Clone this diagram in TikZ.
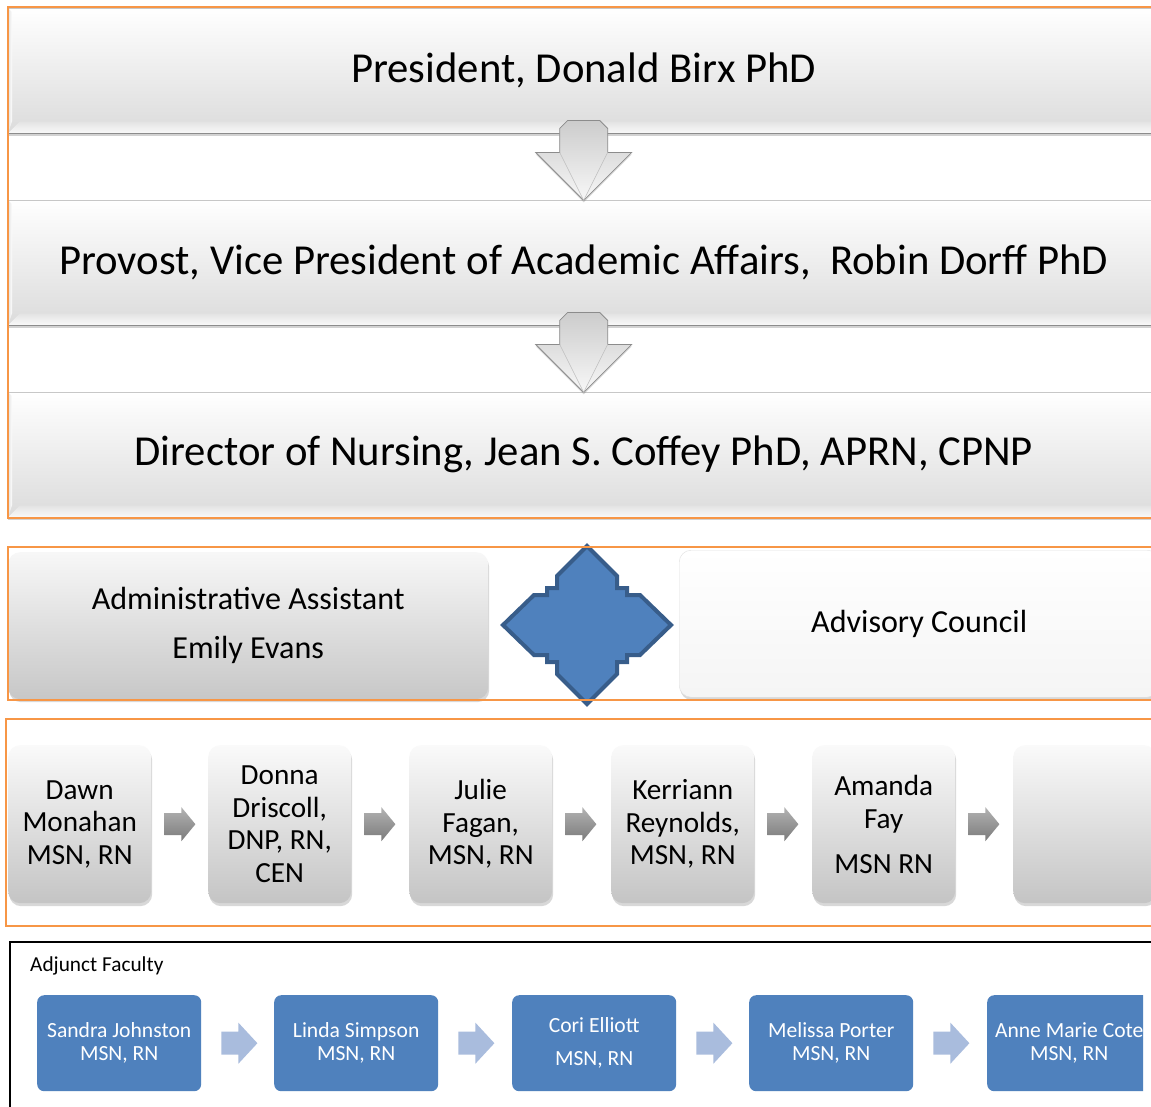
\documentclass[tikz,border=0pt]{standalone}
\usepackage{fontspec}
\setmainfont{Carlito}
\usetikzlibrary{shadows}
\definecolor{orng}{HTML}{F79646}
\definecolor{accblue}{HTML}{4F81BD}
\definecolor{darkblue}{HTML}{385D8A}
\definecolor{lblue}{HTML}{A9BCDD}
\tikzset{
  topbox/.style={inner sep=0, minimum width=1151, minimum height=125, anchor=north west,
    top color=white, bottom color=black!14, text=black,
    font=\fontsize{42.7}{50}\selectfont,
    drop shadow={opacity=0.35, shadow xshift=0pt, shadow yshift=-3pt}},
  midbox/.style={inner sep=0, minimum width=480, minimum height=147, anchor=north west,
    rounded corners=12, align=center, text=black,
    font=\fontsize{32.1}{49}\selectfont,
    drop shadow={opacity=0.3, shadow xshift=1pt, shadow yshift=-3pt}},
  rowbox/.style={inner sep=0, minimum width=143, minimum height=158, anchor=north west,
    rounded corners=12, align=center, text=black,
    top color=black!2, bottom color=black!23,
    font=\fontsize{29.2}{32.5}\selectfont,
    drop shadow={opacity=0.3, shadow xshift=1pt, shadow yshift=-3pt}},
  bluebox/.style={inner sep=0, minimum width=164, minimum height=96, anchor=north west,
    rounded corners=7, fill=accblue, text=white, align=center,
    font=\fontsize{21.6}{23}\selectfont},
  grayarr/.pic={
    \shade[top color=black!30, bottom color=black!52]
      (0,-11) -- (17,-11) -- (17,-17) -- (31,0) -- (17,17) -- (17,11) -- (0,11) -- cycle;},
  bluearr/.pic={
    \fill[lblue]
      (0,-11.5) -- (17,-11.5) -- (17,-20.5) -- (36,0) -- (17,20.5) -- (17,11.5) -- (0,11.5) -- cycle;},
  downarr/.pic={
    \shade[top color=black!20, bottom color=black!3, draw=black!45, line width=0.8,
      drop shadow={opacity=0.3, shadow xshift=0pt, shadow yshift=-2pt}]
      (-16,0) -- (16,0) -- (24,8) -- (24,32) -- (48,32) -- (0,80) -- (-48,32)
      -- (-24,32) -- (-24,8) -- cycle;
    \draw[black!25, line width=0.6] (-24,32) -- (0,80) -- (24,32);}
}
\begin{document}
\begin{tikzpicture}[x=1pt,y=-1pt]
\useasboundingbox (0,0) rectangle (1151,1106);
\clip (0,0) rectangle (1151,1106);
\fill[white] (0,0) rectangle (1151,1106);

% top three boxes
\node[topbox] (pres) at (8,8) {President, Donald Birx PhD};
\node[topbox] (prov) at (8,200) {Provost, Vice President of Academic Affairs,\ \ Robin Dorff PhD};
\node[topbox] (dir) at (8,392) {Director of Nursing, Jean S. Coffey PhD, APRN, CPNP};
\foreach \n in {pres,prov,dir}{
  \shade[top color=black!11, bottom color=black!2]
    (\n.south west) -- ++(12,-12) -- ([yshift=12pt]\n.south east) -- (\n.south east) -- cycle;
  \shade[left color=black!12, right color=white]
    (\n.north west) -- ++(4,4) -- ([xshift=4pt,yshift=12pt]\n.south west) -- (\n.south west) -- cycle;
  \draw[black!45, line width=1.2] (\n.south west) -- (\n.south east);
  \draw[black!22, line width=1] (\n.north west) -- (\n.north east);
}
\pic at ([yshift=13pt]pres.south) {downarr};
\pic at ([yshift=13pt]prov.south) {downarr};

% middle band
\node[midbox, top color=black!3, bottom color=black!22] (admin) at (8,552)
  {Administrative Assistant\\Emily Evans};
\node[midbox, top color=white, bottom color=black!4, draw=black!12] (adv) at (679,550)
  {Advisory Council};
\draw[darkblue, fill=accblue, line width=4, line join=miter]
  (587,546) -- (617,576) -- (617,588) -- (627,588) -- (627,595) -- (640,595)
  -- (671,625) -- (640,655) -- (627,655) -- (627,662) -- (617,662) -- (617,674)
  -- (587,704) -- (557,674) -- (557,662) -- (547,662) -- (547,655) -- (534,655)
  -- (503,625) -- (534,595) -- (547,595) -- (547,588) -- (557,588) -- (557,576)
  -- cycle;

% faculty row
\node[rowbox] (f1) at (8,745) {Dawn\\Monahan\\MSN, RN};
\node[rowbox] (f2) at (208,745) {Donna\\Driscoll,\\DNP, RN,\\CEN};
\node[rowbox] (f3) at (409,745) {Julie\\Fagan,\\MSN, RN};
\node[rowbox] (f4) at (611,745) {Kerriann\\Reynolds,\\MSN, RN};
\node[rowbox] (f5) at (812,745) {Amanda\\Fay\\[12.5pt]MSN RN};
\node[rowbox] (f6) at (1013,745) {};
\pic at ([xshift=13pt]f1.east) {grayarr};
\pic at ([xshift=13pt]f2.east) {grayarr};
\pic at ([xshift=13pt]f3.east) {grayarr};
\pic at ([xshift=13pt]f4.east) {grayarr};
\pic at ([xshift=13pt]f5.east) {grayarr};

% orange frames
\draw[orng, line width=2] (8,7) rectangle (1170,518);
\draw[orng, line width=2] (8,547) rectangle (1170,700);
\draw[orng, line width=2] (6,719) rectangle (1170,926);

% adjunct faculty
\draw[black, line width=1.5] (10,942) rectangle (1170,1130);
\node[anchor=west, inner sep=0, font=\fontsize{21.3}{24}\selectfont] (adjlbl) at (30,966) {Adjunct Faculty};
\node[bluebox] (b1) at (37,995) {Sandra Johnston\\MSN, RN};
\node[bluebox] (b2) at (274,995) {Linda Simpson\\MSN, RN};
\node[bluebox, font=\fontsize{21.6}{33}\selectfont] (b3) at (512,995) {Cori Elliott\\MSN, RN};
\node[bluebox] (b4) at (749,995) {Melissa Porter\\MSN, RN};
\begin{scope}
  \clip (0,900) rectangle (1143,1106);
  \node[bluebox] (b5) at (987,995) {Anne Marie Cote\\MSN, RN};
\end{scope}
\pic at ([xshift=20pt]b1.east) {bluearr};
\pic at ([xshift=20pt]b2.east) {bluearr};
\pic at ([xshift=20pt]b3.east) {bluearr};
\pic at ([xshift=20pt]b4.east) {bluearr};
\end{tikzpicture}
\end{document}
